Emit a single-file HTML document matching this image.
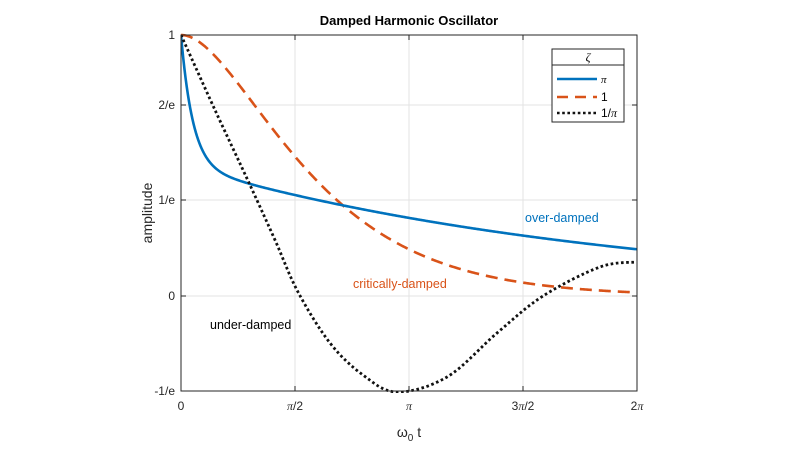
<!DOCTYPE html>
<html><head><meta charset="utf-8"><style>
body{margin:0;background:#fff;}
svg{display:block;font-family:"Liberation Sans",sans-serif;}
</style></head><body>
<svg id="s" width="800" height="450" viewBox="0 0 800 450">
<defs><clipPath id="c"><rect x="181" y="33" width="456" height="360"/></clipPath></defs>
<rect x="181" y="35" width="456" height="356" fill="#fff"/>
<g id="grid" stroke="#e3e3e3" stroke-width="1"></g>
<g clip-path="url(#c)">
<path id="crit" fill="none" stroke="#D95319" stroke-width="2.6" stroke-dasharray="12,7"/>
<path id="over" fill="none" stroke="#0072BD" stroke-width="2.6"/>
<path id="under" fill="none" stroke="#111" stroke-width="2.8" stroke-dasharray="2.6,2.6"/>
</g>
<rect x="181" y="35" width="456" height="356" fill="none" stroke="#262626" stroke-width="1"/>
<g id="ticks" stroke="#262626" stroke-width="1"></g>
<g font-size="12" fill="#262626" text-anchor="end">
<text x="175" y="39">1</text>
<text x="175" y="109">2/e</text>
<text x="175" y="204">1/e</text>
<text x="175" y="300">0</text>
<text x="175" y="395">-1/e</text>
</g>
<g font-size="12" fill="#262626" text-anchor="middle">
<text x="181" y="410">0</text>
<text x="295" y="410"><tspan font-family="Liberation Serif" font-style="italic">π</tspan>/2</text>
<text x="409" y="410" font-family="Liberation Serif" font-style="italic">π</text>
<text x="523" y="410">3<tspan font-family="Liberation Serif" font-style="italic">π</tspan>/2</text>
<text x="637" y="410">2<tspan font-family="Liberation Serif" font-style="italic">π</tspan></text>
</g>
<text x="409" y="437" font-size="14" text-anchor="middle" fill="#262626">ω<tspan font-size="10" dy="4">0</tspan><tspan dy="-4"> t</tspan></text>
<text transform="translate(152,213) rotate(-90)" font-size="14" text-anchor="middle" fill="#262626">amplitude</text>
<text x="409" y="25" font-size="13" font-weight="bold" text-anchor="middle" fill="#000">Damped Harmonic Oscillator</text>
<text x="525" y="222" font-size="12.5" fill="#0072BD">over-damped</text>
<text x="353" y="288" font-size="12.5" fill="#D95319">critically-damped</text>
<text x="210" y="329" font-size="12.5" fill="#000">under-damped</text>
<g>
<rect x="552" y="49" width="72" height="73" fill="#fff" stroke="#262626" stroke-width="1"/>
<line x1="552" y1="65" x2="624" y2="65" stroke="#262626" stroke-width="1"/>
<text x="588" y="61" font-size="12" text-anchor="middle" font-family="Liberation Serif" font-style="italic">ζ</text>
<line x1="557" y1="79" x2="597" y2="79" stroke="#0072BD" stroke-width="2.6"/>
<line x1="557" y1="97" x2="597" y2="97" stroke="#D95319" stroke-width="2.6" stroke-dasharray="11,7"/>
<line x1="557" y1="113" x2="597" y2="113" stroke="#111" stroke-width="2.6" stroke-dasharray="2.6,2.6"/>
<text x="601" y="83" font-size="11" font-family="Liberation Serif" font-style="italic">π</text>
<text x="601" y="101" font-size="12">1</text>
<text x="601" y="117" font-size="12">1/<tspan font-family="Liberation Serif" font-style="italic">π</tspan></text>
</g>
</svg>
<script>
var X=function(t){return 181+72.57*t},Y=function(v){return 296-261*v};
function path(f){var d="";for(var i=0;i<=400;i++){var t=2*Math.PI*i/400;d+=(i?"L":"M")+X(t).toFixed(2)+","+Y(f(t)).toFixed(2);}return d;}
var z=Math.PI,q=Math.sqrt(z*z-1);
document.getElementById("over").setAttribute("d",path(function(t){return 0.5*(Math.exp((-z+q)*t)+Math.exp((-z-q)*t));}));
document.getElementById("crit").setAttribute("d",path(function(t){return (1+t)*Math.exp(-t);}));
var P=[[181,35],[215,110],[250,185],[275,240],[298,292],[330,343],[363,375],[397,392],[447,377],[497,333],[543,296],[600,267],[637,262]];
var d="M"+P[0][0]+","+P[0][1];
for(var i=0;i<P.length-1;i++){var p0=P[Math.max(i-1,0)],p1=P[i],p2=P[i+1],p3=P[Math.min(i+2,P.length-1)];
var c1x=p1[0]+(p2[0]-p0[0])/6,c1y=p1[1]+(p2[1]-p0[1])/6,c2x=p2[0]-(p3[0]-p1[0])/6,c2y=p2[1]-(p3[1]-p1[1])/6;
d+="C"+c1x.toFixed(1)+","+c1y.toFixed(1)+" "+c2x.toFixed(1)+","+c2y.toFixed(1)+" "+p2[0]+","+p2[1];}
document.getElementById("under").setAttribute("d",d);
var g=document.getElementById("grid"),tk=document.getElementById("ticks"),h="",k="";
[295,409,523].forEach(function(x){h+='<line x1="'+x+'" y1="35" x2="'+x+'" y2="391"/>';});
[105,200,296].forEach(function(y){h+='<line x1="181" y1="'+y+'" x2="637" y2="'+y+'"/>';});
[181,295,409,523,637].forEach(function(x){k+='<line x1="'+x+'" y1="391" x2="'+x+'" y2="386"/><line x1="'+x+'" y1="35" x2="'+x+'" y2="40"/>';});
[35,105,200,296,391].forEach(function(y){k+='<line x1="181" y1="'+y+'" x2="186" y2="'+y+'"/><line x1="637" y1="'+y+'" x2="632" y2="'+y+'"/>';});
g.innerHTML=h;tk.innerHTML=k;
</script>
</body></html>
